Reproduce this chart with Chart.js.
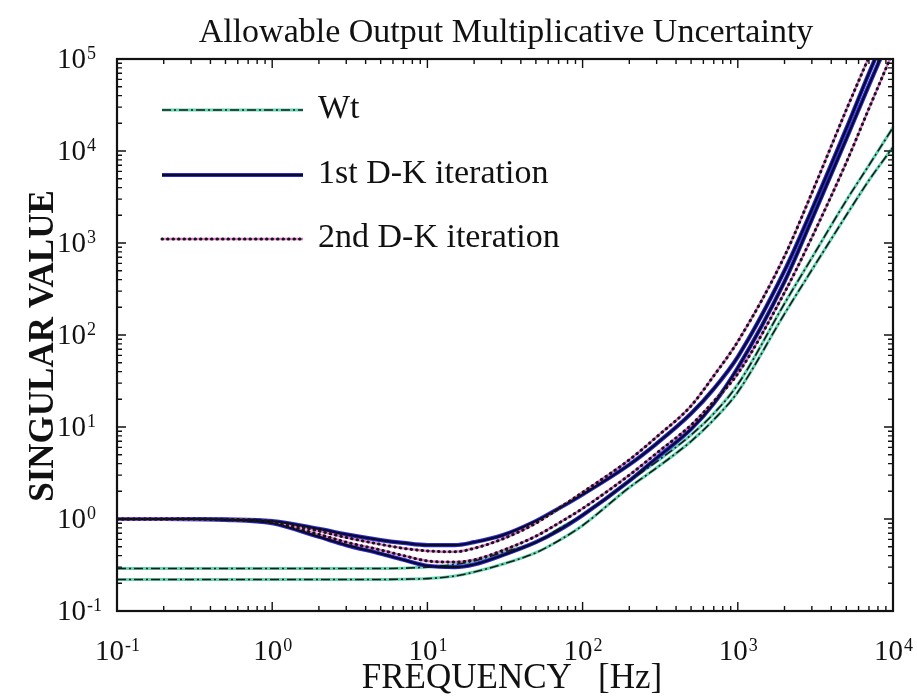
<!DOCTYPE html>
<html>
<head>
<meta charset="utf-8">
<title>Allowable Output Multiplicative Uncertainty</title>
<script src="https://cdn.jsdelivr.net/npm/chart.js@4.4.1/dist/chart.umd.min.js"></script>
<style>
  html, body { margin: 0; padding: 0; background: #fff; }
  #wrap { width: 917px; height: 697px; }
</style>
</head>
<body>
<div id="wrap"><canvas id="sv"></canvas></div>
<script>
"use strict"

// frequency grid [Hz]
const freq = [0.1, 0.2, 0.5, 1, 2, 3, 5, 7, 10, 15, 20, 30, 50, 70, 100, 200, 300, 500, 700, 1000, 2000, 3000, 5000, 7000, 10000];

// weighting function Wt (two singular values)
const wtUpper = [0.29, 0.29, 0.29, 0.29, 0.29, 0.29, 0.29, 0.292, 0.30, 0.32, 0.35, 0.43, 0.56, 0.78, 1.1, 2.6, 4.2, 8.2, 14, 29, 220, 690, 2900, 7000, 18000];
const wtLower = [0.22, 0.22, 0.22, 0.22, 0.22, 0.22, 0.22, 0.222, 0.225, 0.24, 0.265, 0.32, 0.43, 0.58, 0.85, 2.2, 3.6, 7.0, 12, 24, 170, 510, 2000, 4800, 11000];

// 1st D-K iteration
const dk1Upper = [1.0, 1.0, 0.99, 0.95, 0.78, 0.68, 0.59, 0.55, 0.52, 0.52, 0.56, 0.66, 0.95, 1.3, 1.85, 3.9, 6.6, 14, 26, 58, 500, 2300, 17500, 70000, 280000];
const dk1Lower = [1.0, 1.0, 0.98, 0.9, 0.64, 0.52, 0.42, 0.36, 0.31, 0.30, 0.32, 0.40, 0.56, 0.75, 1.1, 2.6, 4.6, 9.5, 18, 44, 380, 1800, 13500, 52000, 210000];

// 2nd D-K iteration
const dk2Upper = [1.0, 1.0, 0.99, 0.94, 0.74, 0.63, 0.53, 0.48, 0.45, 0.44, 0.48, 0.60, 0.90, 1.3, 1.95, 4.4, 7.8, 17, 36, 85, 720, 3500, 28000, 105000, 420000];
const dk2Lower = [1.0, 1.0, 0.98, 0.91, 0.68, 0.56, 0.46, 0.40, 0.35, 0.34, 0.36, 0.45, 0.65, 0.9, 1.3, 3.0, 5.2, 10.5, 19, 38, 290, 1150, 7500, 29000, 120000];

const seriesLabels = ["Wt", "1st D-K iteration", "2nd D-K iteration"];

// decade exponents for tick labels
const xTickExp = [-1, 0, 1, 2, 3, 4];
const yTickExp = [-1, 0, 1, 2, 3, 4, 5];

const SERIF = '"Liberation Serif", "DejaVu Serif", serif';

// each curve = coloured halo underneath + black patterned line on top
const styles = [
  { halo: "rgba(70, 205, 160, 0.85)", haloWidth: 3, core: "#1a1a1a", coreWidth: 1.6, dash: [9, 3, 2, 3], cap: "butt", order: 3 },
  { halo: "#2c2cd6", haloWidth: 4.2, core: "#0a0a30", coreWidth: 2.2, dash: [], cap: "butt", order: 2 },
  { halo: "#e27ad2", haloWidth: 2.5, core: "#151515", coreWidth: 3, dash: [0.5, 5], cap: "round", order: 1 },
];

const toPoints = (vals) => vals.map((v, i) => ({ x: freq[i], y: v }));

function curve(label, vals, st, halo) {
  return {
    label: label,
    data: toPoints(vals),
    borderColor: halo ? st.halo : st.core,
    borderWidth: halo ? st.haloWidth : st.coreWidth,
    borderDash: halo ? [] : st.dash,
    borderCapStyle: halo ? "butt" : st.cap,
    pointRadius: 0,
    cubicInterpolationMode: "monotone",
    fill: false,
    clip: 0,
    order: halo ? 10 + st.order : st.order,
  };
}

const groups = [[wtUpper, wtLower], [dk1Upper, dk1Lower], [dk2Upper, dk2Lower]];
const datasets = [];
groups.forEach((pair, g) => {
  pair.forEach((vals) => {
    datasets.push(curve(seriesLabels[g], vals, styles[g], true));
    datasets.push(curve(seriesLabels[g], vals, styles[g], false));
  });
});

function drawPower(ctx, exp, x, y, align) {
  const base = "10";
  const sup = String(exp);
  ctx.font = "29px " + SERIF;
  const wb = ctx.measureText(base).width;
  ctx.font = "18px " + SERIF;
  const ws = ctx.measureText(sup).width;
  let left = x;
  if (align === "center") left = x - (wb + ws) / 2;
  if (align === "right") left = x - wb;
  ctx.textAlign = "left";
  ctx.textBaseline = "alphabetic";
  ctx.font = "29px " + SERIF;
  ctx.fillText(base, left, y);
  ctx.font = "18px " + SERIF;
  ctx.fillText(sup, left + wb + 1, y - 9);
}

const framePlugin = {
  id: "frameTicks",
  afterDatasetsDraw(chart) {
    const { ctx, chartArea: a, scales: { x, y } } = chart;
    ctx.save();
    ctx.strokeStyle = "#111";
    ctx.lineWidth = 1.4;
    ctx.beginPath();
    xTickExp.forEach((e) => {
      for (let m = 1; m <= 9; m++) {
        const v = m * Math.pow(10, e);
        if (v > x.max * 1.0001) break;
        const px = x.getPixelForValue(v);
        const len = m === 1 ? 9 : 5;
        ctx.moveTo(px, a.bottom); ctx.lineTo(px, a.bottom - len);
        ctx.moveTo(px, a.top); ctx.lineTo(px, a.top + len);
      }
    });
    yTickExp.forEach((e) => {
      for (let m = 1; m <= 9; m++) {
        const v = m * Math.pow(10, e);
        if (v > y.max * 1.0001) break;
        const py = y.getPixelForValue(v);
        const len = m === 1 ? 9 : 5;
        ctx.moveTo(a.left, py); ctx.lineTo(a.left + len, py);
        ctx.moveTo(a.right, py); ctx.lineTo(a.right - len, py);
      }
    });
    ctx.stroke();
    ctx.lineWidth = 2.2;
    ctx.strokeRect(a.left, a.top, a.right - a.left, a.bottom - a.top);
    ctx.restore();
  },
  afterDraw(chart) {
    const { ctx, scales: { x, y } } = chart;
    ctx.save();
    ctx.fillStyle = "#111";

    xTickExp.forEach((e) => drawPower(ctx, e, x.getPixelForValue(Math.pow(10, e)), 660, "center"));
    yTickExp.forEach((e) => drawPower(ctx, e, 86, y.getPixelForValue(Math.pow(10, e)) + 9, "right"));

    // title
    ctx.textAlign = "center";
    ctx.textBaseline = "alphabetic";
    ctx.font = "34px " + SERIF;
    ctx.fillText("Allowable Output Multiplicative Uncertainty", 506, 42);

    // axis titles
    ctx.font = "35px " + SERIF;
    ctx.fillText("FREQUENCY   [Hz]", 512, 688);
    ctx.save();
    ctx.translate(53, 346);
    ctx.rotate(-Math.PI / 2);
    ctx.font = "bold 35px " + SERIF;
    ctx.fillText("SINGULAR VALUE", 0, 0);
    ctx.restore();

    // legend inside the plot
    const rowY = [110, 175, 239];
    seriesLabels.forEach((label, i) => {
      const st = styles[i];
      const ly = rowY[i];
      ctx.setLineDash([]);
      ctx.lineCap = "butt";
      ctx.strokeStyle = st.halo;
      ctx.lineWidth = st.haloWidth;
      ctx.beginPath(); ctx.moveTo(162, ly); ctx.lineTo(303, ly); ctx.stroke();
      ctx.setLineDash(st.dash);
      ctx.lineCap = st.cap;
      ctx.strokeStyle = st.core;
      ctx.lineWidth = st.coreWidth;
      ctx.beginPath(); ctx.moveTo(162, ly); ctx.lineTo(303, ly); ctx.stroke();
      ctx.setLineDash([]);
      ctx.textAlign = "left";
      ctx.font = "34px " + SERIF;
      ctx.fillStyle = "#111";
      ctx.fillText(label, 318, ly + 8);
    });
    ctx.restore();
  },
};

new Chart(document.getElementById("sv"), {
  type: "line",
  data: { datasets: datasets },
  options: {
    responsive: true,
    maintainAspectRatio: false,
    animation: false,
    layout: { padding: { left: 117, top: 59, right: 24, bottom: 86 } },
    plugins: { legend: { display: false }, tooltip: { enabled: false }, title: { display: false } },
    scales: {
      x: { type: "logarithmic", min: 0.1, max: 10000, display: false },
      y: { type: "logarithmic", min: 0.1, max: 100000, display: false },
    },
  },
  plugins: [framePlugin],
});
</script>
</body>
</html>
